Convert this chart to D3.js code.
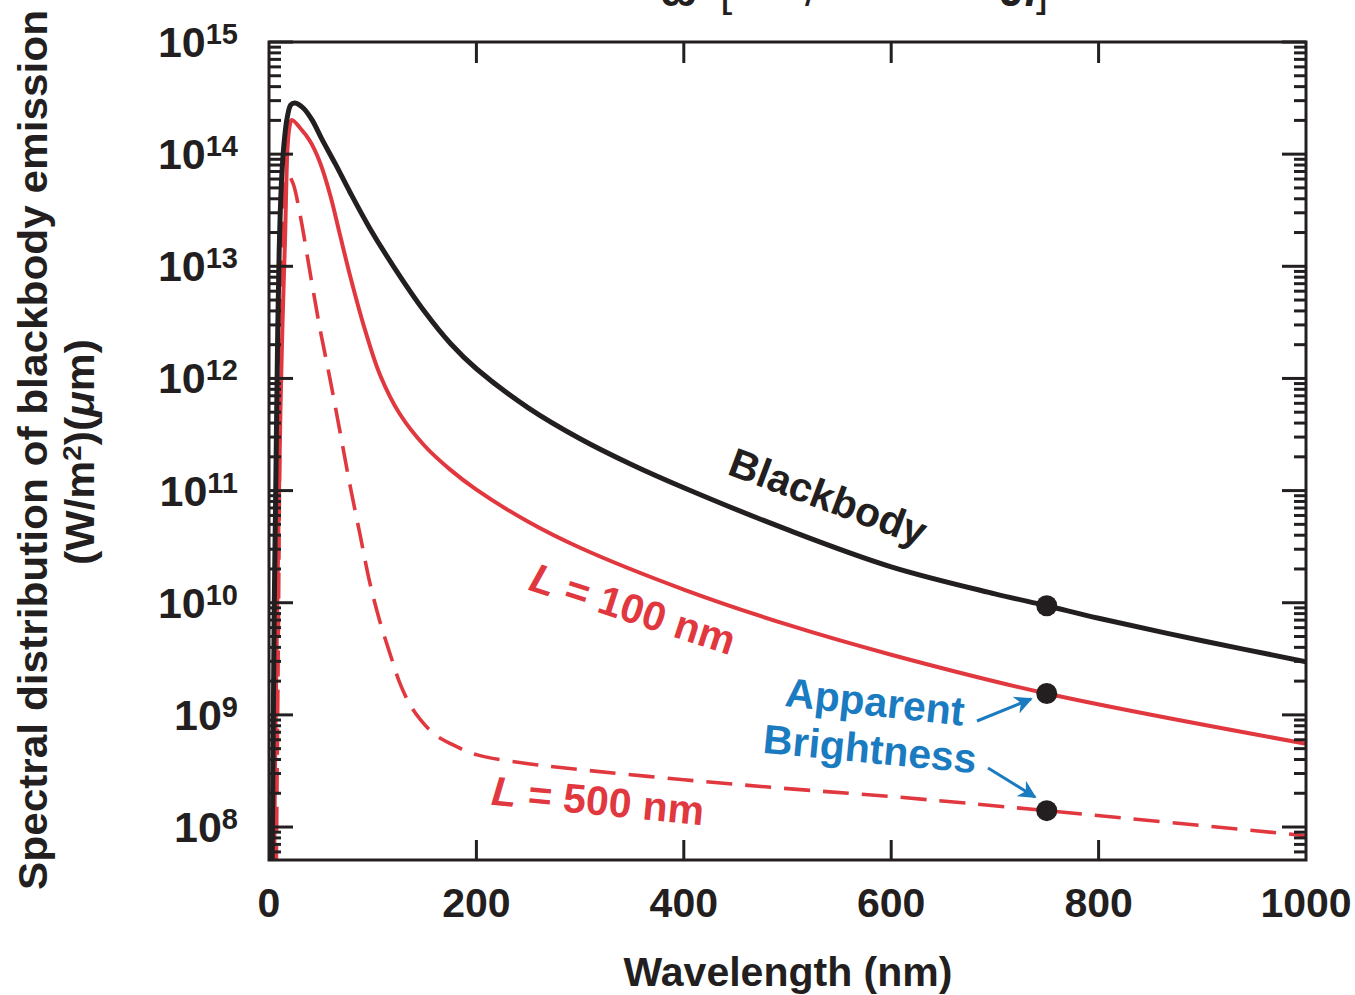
<!DOCTYPE html>
<html>
<head>
<meta charset="utf-8">
<script src="https://cdn.jsdelivr.net/npm/d3@7"></script>
<style>
  html, body { margin: 0; padding: 0; background: #fff; }
  svg { display: block; }
  text { font-family: "Liberation Sans", Arial, Helvetica, sans-serif; font-weight: bold; }
</style>
</head>
<body>
<svg id="chart" width="1355" height="995"></svg>
<script>
// ---------------- data ----------------
const blackWavelength = [3, 4, 5, 6.5, 8.5, 10, 12, 14.5, 17.5, 21, 25, 33, 41.5, 51, 64, 78, 97, 120, 150, 175, 200, 250, 300, 350, 400, 500, 600, 700, 750, 800, 900, 1000];
const blackValues = [4e7, 6e8, 8e9, 1e11, 3e12, 1.6e13, 5.6e13, 1.25e14, 2.1e14, 2.75e14, 2.86e14, 2.58e14, 2.02e14, 1.36e14, 8.18e13, 4.6e13, 2.2e13, 1.0e13, 3.95e12, 2.05e12, 1.22e12, 5.47e11, 2.9e11, 1.7e11, 1.06e11, 4.48e10, 2.09e10, 1.2e10, 9.4e9, 7.28e9, 4.58e9, 2.98e9];

const red100Wavelength = [5, 6, 7.5, 9, 11, 13, 15.5, 18, 20, 22, 30, 39.5, 49, 59, 68.5, 78, 92.6, 107, 126, 150, 175, 200, 250, 300, 400, 500, 600, 750, 1000];
const red100Values = [4e7, 5e8, 5e9, 4e10, 5e11, 3e12, 1.8e13, 1.2e14, 1.8e14, 2.02e14, 1.71e14, 1.31e14, 8.52e13, 4.33e13, 1.9e13, 8.38e12, 2.71e12, 1.08e12, 4.84e11, 2.51e11, 1.53e11, 1.02e11, 5.27e10, 3.09e10, 1.31e10, 6.37e9, 3.44e9, 1.55e9, 5.53e8];

const red500Wavelength = [7, 9, 11, 13, 15, 18.3, 23, 30, 39.5, 49, 59, 68.5, 78, 88, 97, 107, 117, 126, 136, 146, 160, 175, 200, 250, 300, 400, 500, 600, 750, 1000];
const red500Values = [4e7, 5e9, 1e12, 1.8e13, 5e13, 6.53e13, 5.54e13, 2.87e13, 8.91e12, 2.83e12, 9.72e11, 3.34e11, 1.13e11, 3.96e10, 1.54e10, 6.77e9, 3.44e9, 1.94e9, 1.23e9, 9.06e8, 6.66e8, 5.54e8, 4.42e8, 3.67e8, 3.25e8, 2.64e8, 2.2e8, 1.87e8, 1.4e8, 8.37e7];

const markerWavelength = 750;
const markerValues = [9.4e9, 1.55e9, 1.4e8];

const xTicks = [0, 200, 400, 600, 800, 1000];
const yExponents = [8, 9, 10, 11, 12, 13, 14, 15];

const xLabel = "Wavelength (nm)";
const yLabel1 = "Spectral distribution of blackbody emission";

// ---------------- layout ----------------
const svg = d3.select("#chart");
const W = 1355, H = 995;
const L = 269, R = 1306, T = 42, B = 860;
const BLACK = "#231f20", RED = "#e1383f", BLUE = "#1a7bc0";

svg.append("rect").attr("width", W).attr("height", H).attr("fill", "#fff");

const x = d3.scaleLinear().domain([0, 1000]).range([L, R]);
const y = d3.scaleLog().domain([Math.pow(10, 7.706), 1e15]).range([B, T]);

// clip
svg.append("clipPath").attr("id", "plotclip")
  .append("rect").attr("x", L).attr("y", T).attr("width", R - L).attr("height", B - T);

// ---------------- curves ----------------
const line = d3.line()
  .x(d => x(d[0]))
  .y(d => y(d[1]))
  .curve(d3.curveCatmullRom.alpha(0.5));

const g = svg.append("g").attr("clip-path", "url(#plotclip)");

g.append("path")
  .attr("d", line(d3.zip(red500Wavelength, red500Values)))
  .attr("fill", "none").attr("stroke", RED).attr("stroke-width", 3.6)
  .attr("stroke-dasharray", "26,13");

g.append("path")
  .attr("d", line(d3.zip(red100Wavelength, red100Values)))
  .attr("fill", "none").attr("stroke", RED).attr("stroke-width", 4);

g.append("path")
  .attr("d", line(d3.zip(blackWavelength, blackValues)))
  .attr("fill", "none").attr("stroke", BLACK).attr("stroke-width", 5);

// markers
svg.selectAll("circle.mark").data(markerValues).enter().append("circle")
  .attr("class", "mark")
  .attr("cx", x(markerWavelength)).attr("cy", d => y(d)).attr("r", 10.5)
  .attr("fill", BLACK);

// ---------------- axes ----------------
const axisG = svg.append("g");
const strokeW = 3;

// frame
axisG.append("rect").attr("x", L).attr("y", T).attr("width", R - L).attr("height", B - T)
  .attr("fill", "none").attr("stroke", BLACK).attr("stroke-width", strokeW);

// x ticks (top & bottom, inward)
const xt = xTicks.filter(v => v > 0 && v < 1000);
axisG.selectAll("line.xtb").data(xt).enter().append("line")
  .attr("x1", d => x(d)).attr("x2", d => x(d))
  .attr("y1", B).attr("y2", B - 20)
  .attr("stroke", BLACK).attr("stroke-width", strokeW);
axisG.selectAll("line.xtt").data(xt).enter().append("line")
  .attr("x1", d => x(d)).attr("x2", d => x(d))
  .attr("y1", T).attr("y2", T + 21)
  .attr("stroke", BLACK).attr("stroke-width", strokeW);

// x tick labels
svg.selectAll("text.xl").data(xTicks).enter().append("text")
  .attr("x", d => x(d)).attr("y", 917)
  .attr("text-anchor", "middle").attr("font-size", 41)
  .attr("fill", BLACK)
  .text(d => d);

// y ticks (major + minor, both sides inward)
const yMinor = [];
for (let e = 7; e <= 14; e++) {
  for (let k = 2; k <= 9; k++) {
    const v = k * Math.pow(10, e);
    if (v >= y.domain()[0] && v <= 1e15) yMinor.push(v);
  }
}
const yMajor = yExponents.map(e => Math.pow(10, e));

function yTicks(vals, len, cls) {
  axisG.selectAll("line." + cls + "l").data(vals).enter().append("line")
    .attr("x1", L).attr("x2", L + len)
    .attr("y1", d => y(d)).attr("y2", d => y(d))
    .attr("stroke", BLACK).attr("stroke-width", strokeW);
  axisG.selectAll("line." + cls + "r").data(vals).enter().append("line")
    .attr("x1", R).attr("x2", R - len)
    .attr("y1", d => y(d)).attr("y2", d => y(d))
    .attr("stroke", BLACK).attr("stroke-width", strokeW);
}
yTicks(yMajor, 24, "ymaj");
yTicks(yMinor, 12, "ymin");

// y tick labels
const yl = svg.selectAll("text.yl").data(yExponents).enter().append("text")
  .attr("x", 238).attr("y", d => y(Math.pow(10, d)) + 15)
  .attr("text-anchor", "end").attr("fill", BLACK).attr("font-size", 43);
yl.append("tspan").text("10");
yl.append("tspan").attr("font-size", 29).attr("dy", -13).text(d => d);

// axis titles
svg.append("text")
  .attr("x", 788).attr("y", 986)
  .attr("text-anchor", "middle").attr("font-size", 41).attr("fill", BLACK)
  .text(xLabel);

svg.append("text")
  .attr("transform", "translate(47,450) rotate(-90)")
  .attr("text-anchor", "middle").attr("fill", BLACK)
  .style("font-family", "'Liberation Sans Narrow', 'Liberation Sans', Arial, sans-serif")
  .attr("font-size", 40)
  .attr("textLength", 880).attr("lengthAdjust", "spacingAndGlyphs")
  .text(yLabel1);

const yl2 = svg.append("text")
  .attr("transform", "translate(94,452) rotate(-90)")
  .attr("text-anchor", "middle").attr("fill", BLACK)
  .style("font-family", "'Liberation Sans Narrow', 'Liberation Sans', Arial, sans-serif")
  .attr("font-size", 40)
  .attr("textLength", 226).attr("lengthAdjust", "spacingAndGlyphs");
yl2.append("tspan").text("(W/m");
yl2.append("tspan").attr("font-size", 26).attr("dy", -13).text("2");
yl2.append("tspan").attr("dy", 13).text(")(");
yl2.append("tspan").attr("font-style", "italic").text("\u03bc");
yl2.append("tspan").text("m)");

// title at top (clipped by the page edge, as in the reference)
const title = svg.append("text").attr("y", 6).attr("font-size", 44).attr("fill", BLACK);
title.append("tspan").attr("x", 660).text("\u03c9");
title.append("tspan").attr("x", 720).attr("font-weight", "normal").text("[");
title.append("tspan").attr("x", 805).attr("font-weight", "normal").text("/");
title.append("tspan").attr("x", 1000).attr("font-style", "italic").text("J.");
title.append("tspan").attr("x", 1036).attr("font-weight", "normal").text("]");

// ---------------- annotations ----------------
function label(cx, cy, angle, color, parts) {
  const t = svg.append("text")
    .attr("transform", `translate(${cx},${cy}) rotate(${angle})`)
    .attr("text-anchor", "middle").attr("dominant-baseline", "central")
    .attr("font-size", 41).attr("fill", color);
  parts.forEach(p => {
    const s = t.append("tspan").text(p.t);
    if (p.i) s.attr("font-style", "italic");
  });
}
label(828, 497, 20.5, BLACK, [{t: "Blackbody"}]);
label(633, 609, 18, RED, [{t: "L", i: true}, {t: " = 100 nm"}]);
label(598, 801, 5.5, RED, [{t: "L", i: true}, {t: " = 500 nm"}]);
label(875, 702, 6.3, BLUE, [{t: "Apparent"}]);
label(870, 749, 5.5, BLUE, [{t: "Brightness"}]);

// arrows
const defs = svg.append("defs");
defs.append("marker").attr("id", "arrow").attr("viewBox", "0 0 10 10")
  .attr("refX", 9).attr("refY", 5).attr("markerWidth", 7).attr("markerHeight", 6)
  .attr("markerUnits", "strokeWidth").attr("orient", "auto")
  .append("path").attr("d", "M0,0 L10,5 L0,10 L3,5 Z").attr("fill", BLUE);

const arrows = [
  [977, 721, 1031, 699],
  [988, 768, 1035, 797]
];
svg.selectAll("line.arrow").data(arrows).enter().append("line")
  .attr("x1", d => d[0]).attr("y1", d => d[1]).attr("x2", d => d[2]).attr("y2", d => d[3])
  .attr("stroke", BLUE).attr("stroke-width", 3).attr("marker-end", "url(#arrow)");
</script>
</body>
</html>
